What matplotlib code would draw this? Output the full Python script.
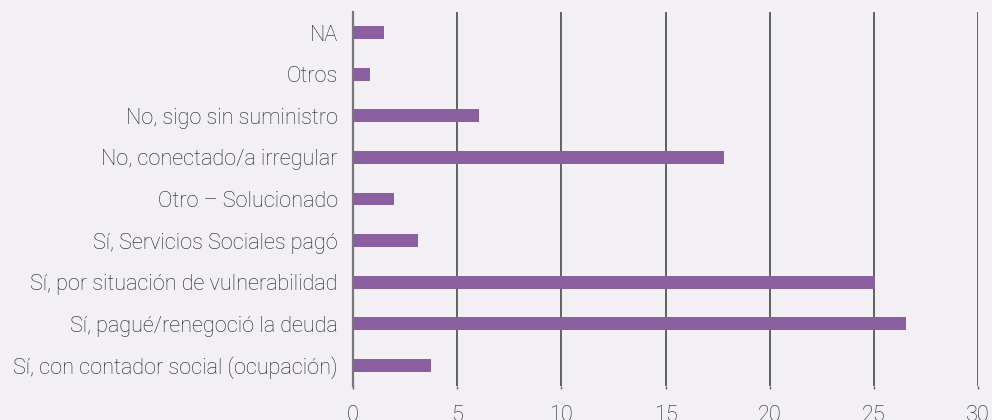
import matplotlib
matplotlib.use("Agg")
import matplotlib.pyplot as plt

categories = [
    "NA",
    "Otros",
    "No, sigo sin suministro",
    "No, conectado/a irregular",
    "Otro – Solucionado",
    "Sí, Servicios Sociales pagó",
    "Sí, por situación de vulnerabilidad",
    "Sí, pagué/renegoció la deuda",
    "Sí, con contador social (ocupación)",
]
values = [1.5, 0.8, 6.05, 17.8, 1.95, 3.1, 25.05, 26.55, 3.75]
xticks = [0, 5, 10, 15, 20, 25, 30]

bg = "#F2F0F5"
bar_color = "#8A5FA0"

plt.rcParams['font.family'] = ['Roboto', 'DejaVu Sans']

fig = plt.figure(figsize=(9.92, 4.2), dpi=100, facecolor=bg)
ax = fig.add_axes([353/992, 1 - 386/420, (978-353)/992, (386-12)/420])
ax.set_facecolor(bg)

y = list(range(len(categories)))
ax.barh(y, values, height=0.31, color=bar_color, zorder=3)
ax.set_ylim(len(categories) - 0.5, -0.5)
ax.set_xlim(0, 30)
ax.set_yticks(y)
ax.set_yticklabels(categories, fontsize=15.6, fontweight='light', color='#1e1e1e')
ax.set_xticks(xticks)
ax.set_xticklabels([str(t) for t in xticks], fontsize=15.6, fontweight='light', color='#1e1e1e')

ax.tick_params(axis='y', length=0, pad=11)
ax.tick_params(axis='x', length=2.5, width=1, color='#666666', pad=11)

ax.grid(axis='x', color='#3a3a3a', linewidth=1.1, zorder=0)
ax.set_axisbelow(True)
for s in ['top', 'right', 'bottom']:
    ax.spines[s].set_visible(False)
ax.spines['left'].set_color('#777777')
ax.spines['left'].set_linewidth(1.6)
ax.spines['left'].set_zorder(4)

fig.savefig("out.png", dpi=100, facecolor=bg)
